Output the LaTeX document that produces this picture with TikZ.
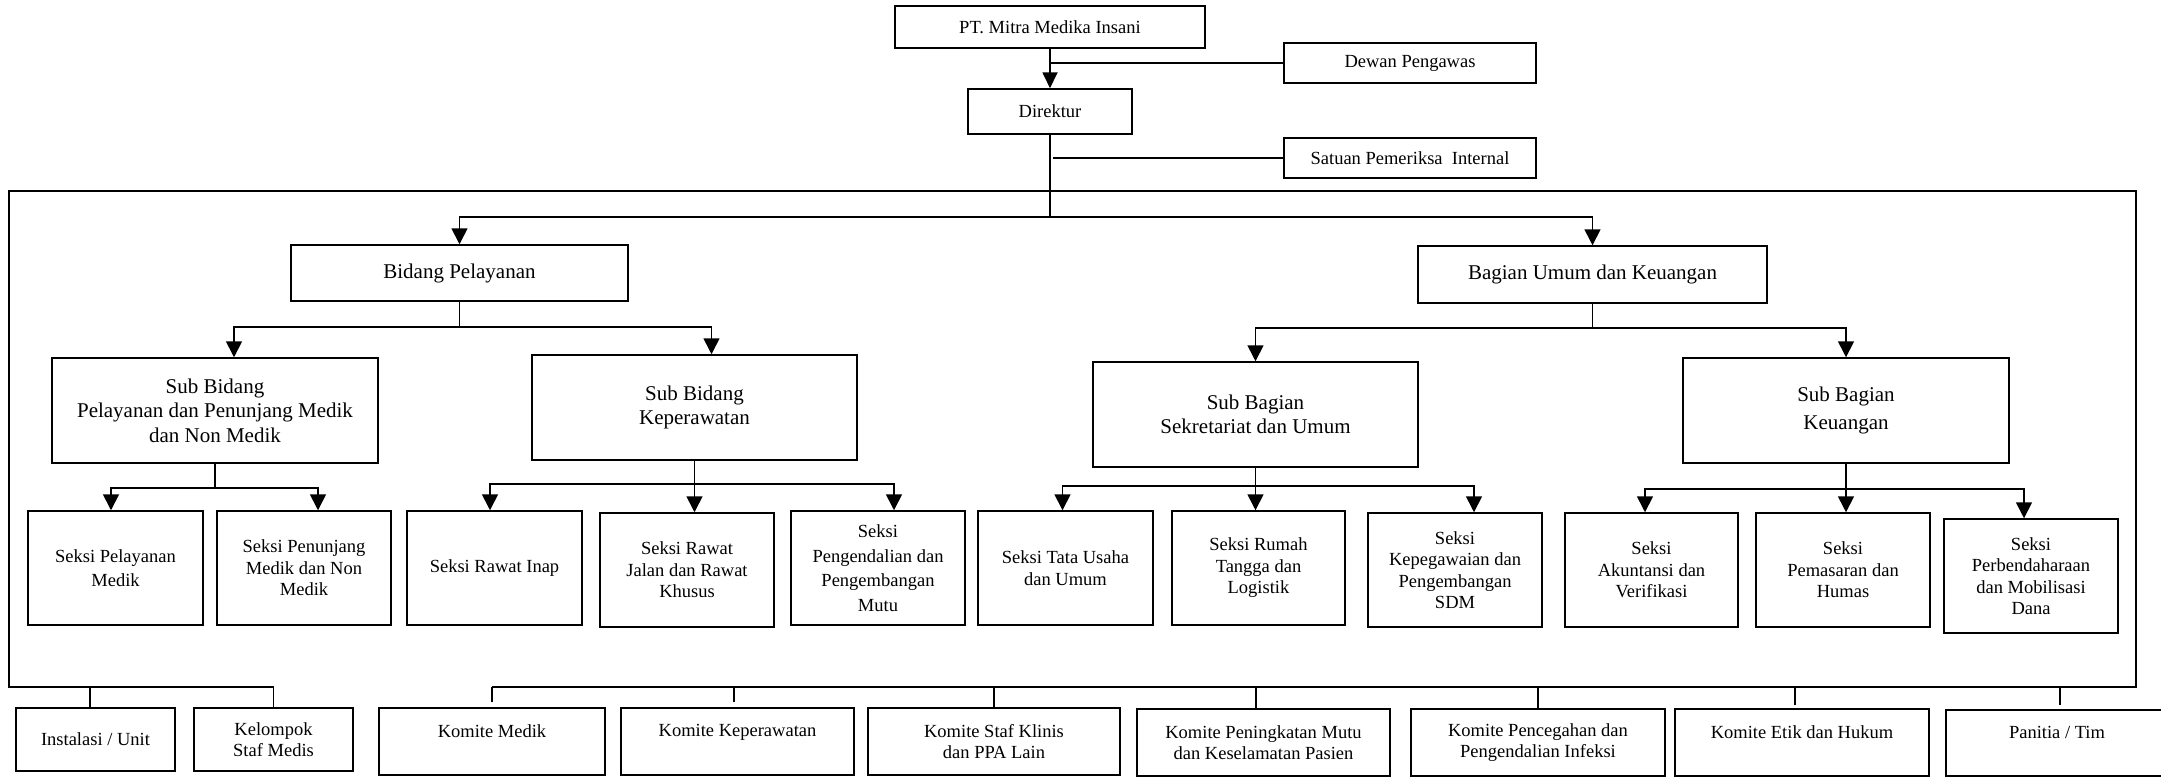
\documentclass[tikz,border=0pt]{standalone}
\usepackage{fontspec}
\setmainfont{Liberation Serif}
\usetikzlibrary{arrows.meta}
\newcommand\bx[7]{\node[box,#7,minimum width={(#4)-(#2)},minimum height={(#5)-(#3)}] (#1) at ({((#2)+(#4))/2},{((#3)+(#5))/2}) {#6};}
\tikzset{
  box/.style={draw, line width=1.5pt, inner sep=2pt, align=center},
  sm/.style={font=\fontsize{18.5}{21.5}\selectfont},
  smw/.style={font=\fontsize{18.5}{24.5}\selectfont},
  lg/.style={font=\fontsize{21}{24.5}\selectfont},
  lgw/.style={font=\fontsize{21}{28.5}\selectfont},
  conn/.style={line width=1.7pt},
  arr/.style={line width=1.7pt, -{Triangle[width=16pt,length=16pt]}},
}
\begin{document}
\begin{tikzpicture}[x={(1pt,0pt)}, y={(0pt,-1pt)}]
\fill[white] (0,0) rectangle (2161,777);
\useasboundingbox (0,0) rectangle (2161,777);
% top level
\bx{pt}{895}{6}{1205}{48}{PT. Mitra Medika Insani}{sm}
\bx{dewan}{1284}{43}{1536}{83}{Dewan Pengawas}{sm}
\bx{dir}{968}{89}{1132}{134}{Direktur}{sm}
\bx{spi}{1284}{138}{1536}{178}{Satuan Pemeriksa\ \ Internal}{sm}
% level 1
\bx{bp}{291}{245}{628}{301}{Bidang Pelayanan}{lg}
\bx{bu}{1418}{246}{1767}{303}{Bagian Umum dan Keuangan}{lg}
% level 2
\bx{sbp}{52}{358}{378}{463}{Sub Bidang\\Pelayanan dan Penunjang Medik\\dan Non Medik}{lg}
\bx{sbk}{532}{355}{857}{460}{Sub Bidang\\Keperawatan}{lg}
\bx{sbs}{1093}{362}{1418}{467}{Sub Bagian\\Sekretariat dan Umum}{lg}
\bx{sbkeu}{1683}{358}{2009}{463}{Sub Bagian\\Keuangan}{lgw}
% level 3
\bx{spm}{28}{511}{203}{625}{Seksi Pelayanan\\Medik}{smw}
\bx{spn}{217}{511}{391}{625}{Seksi Penunjang\\Medik dan Non\\Medik}{sm}
\bx{sri}{407}{511}{582}{625}{Seksi Rawat Inap}{sm}
\bx{srj}{600}{513}{774}{627}{Seksi Rawat\\Jalan dan Rawat\\Khusus}{sm}
\bx{speng}{791}{511}{965}{625}{Seksi\\Pengendalian dan\\Pengembangan\\Mutu}{smw}
\bx{stu}{978}{511}{1153}{625}{Seksi Tata Usaha\\dan Umum}{sm}
\bx{srt}{1172}{511}{1345}{625}{Seksi Rumah\\Tangga dan\\Logistik}{sm}
\bx{skep}{1368}{513}{1542}{627}{Seksi\\Kepegawaian dan\\Pengembangan\\SDM}{sm}
\bx{sak}{1565}{513}{1738}{627}{Seksi\\Akuntansi dan\\Verifikasi}{sm}
\bx{spem}{1756}{513}{1930}{627}{Seksi\\Pemasaran dan\\Humas}{sm}
\bx{sperb}{1944}{519}{2118}{633}{Seksi\\Perbendaharaan\\dan Mobilisasi\\Dana}{sm}
% bottom row
\bx{inst}{16}{708}{175}{771}{Instalasi / Unit}{sm}
\bx{kel}{194}{708}{353}{771}{Kelompok\\Staf Medis}{sm}
\bx{kmed}{379}{708}{605}{775}{Komite Medik\\~}{sm}
\bx{kkep}{621}{708}{854}{775}{Komite Keperawatan\\~}{sm}
\bx{kstaf}{868}{708}{1120}{775}{Komite Staf Klinis\\dan PPA Lain}{sm}
\bx{kmutu}{1137}{709}{1390}{776}{Komite Peningkatan Mutu\\dan Keselamatan Pasien}{sm}
\bx{kppi}{1411}{709}{1665}{776}{Komite Pencegahan dan\\Pengendalian Infeksi}{sm}
\bx{ketik}{1675}{709}{1929}{776}{Komite Etik dan Hukum\\~}{sm}
\bx{pan}{1946}{710}{2168}{776}{Panitia / Tim\\~}{sm}
% top connectors
\draw[line width=1.8pt, -{Triangle[width=15pt,length=16pt]}] (pt.south) -- (dir.north);
\draw[conn] (pt.south |- dewan.west) -- (dewan.west);
\draw[conn] ([xshift=3pt]dir.south |- spi.west) -- (spi.west);
\path (dir.south) ++(0,82) coordinate (hub);
\draw[conn] (dir.south) -- (hub);
\draw[arr] (hub) -| (bp.north);
\draw[arr] (hub) -| (bu.north);
% frame
\coordinate (ftl) at (9,191);
\coordinate (ftr) at (2136,191);
\coordinate (fbl) at (9,687);
\coordinate (fbr) at (2136,687);
\draw[conn] (kel.north |- fbl) -- (fbl) -- (ftl) -- (ftr) -- (fbr) -- (kmed.north |- fbr);
% level 2 connectors
\path (bp.south) ++(0,25) coordinate (h2);
\draw[line width=1.2pt] (bp.south) -- (h2);
\draw[arr] (h2) -| ([xshift=19pt]sbp.north);
\draw[arr] (h2) -| ([xshift=17pt]sbk.north);
\path (bu.south) ++(0,24) coordinate (h3);
\draw[conn] (bu.south) -- (h3);
\draw[arr] (h3) -| (sbs.north);
\draw[arr] (h3) -| (sbkeu.north);
% level 3 connectors
\path (sbp.south) ++(0,24) coordinate (h4);
\draw[conn] (sbp.south) -- (h4);
\draw[arr] (h4) -| ([xshift=-4.5pt]spm.north);
\draw[arr] (h4) -| ([xshift=14pt]spn.north);
\path (sbk.south) ++(0,23) coordinate (h5);
\draw[conn] (sbk.south) -- (h5);
\draw[arr] (h5) -| ([xshift=-4.5pt]sri.north);
\draw[arr] (h5) -- (h5 |- srj.north);
\draw[arr] (h5) -| ([xshift=16pt]speng.north);
\path (sbs.south) ++(0,18) coordinate (h6);
\draw[conn] (sbs.south) -- (h6);
\draw[arr] (h6) -| ([xshift=-3pt]stu.north);
\draw[arr] (h6) -- (h6 |- srt.north);
\draw[arr] (h6) -| ([xshift=19pt]skep.north);
\path (sbkeu.south) ++(0,25) coordinate (h7);
\draw[conn] (sbkeu.south) -- (h7);
\draw[arr] (h7) -| ([xshift=-6.5pt]sak.north);
\draw[arr] (h7) -- (h7 |- spem.north);
\draw[arr] (h7) -| ([xshift=-7pt]sperb.north);
% bottom ticks
\draw[conn] ([xshift=-5.5pt]inst.north) -- ++(0,-21);
\draw[conn] (kel.north) -- ++(0,-21);
\draw[conn] ([yshift=5pt]kmed.north) -- (kmed.north |- fbr);
\draw[conn] ([xshift=-3.5pt,yshift=5pt]kkep.north) -- ++(0,-16);
\draw[conn] (kstaf.north) -- ++(0,-21);
\draw[conn] ([xshift=-7.5pt]kmutu.north) -- ++(0,-22);
\draw[conn] (kppi.north) -- ++(0,-22);
\draw[conn] ([xshift=-7pt,yshift=3pt]ketik.north) -- ++(0,-19);
\draw[conn] ([xshift=3pt,yshift=4pt]pan.north) -- ++(0,-19);
\end{tikzpicture}
\end{document}
